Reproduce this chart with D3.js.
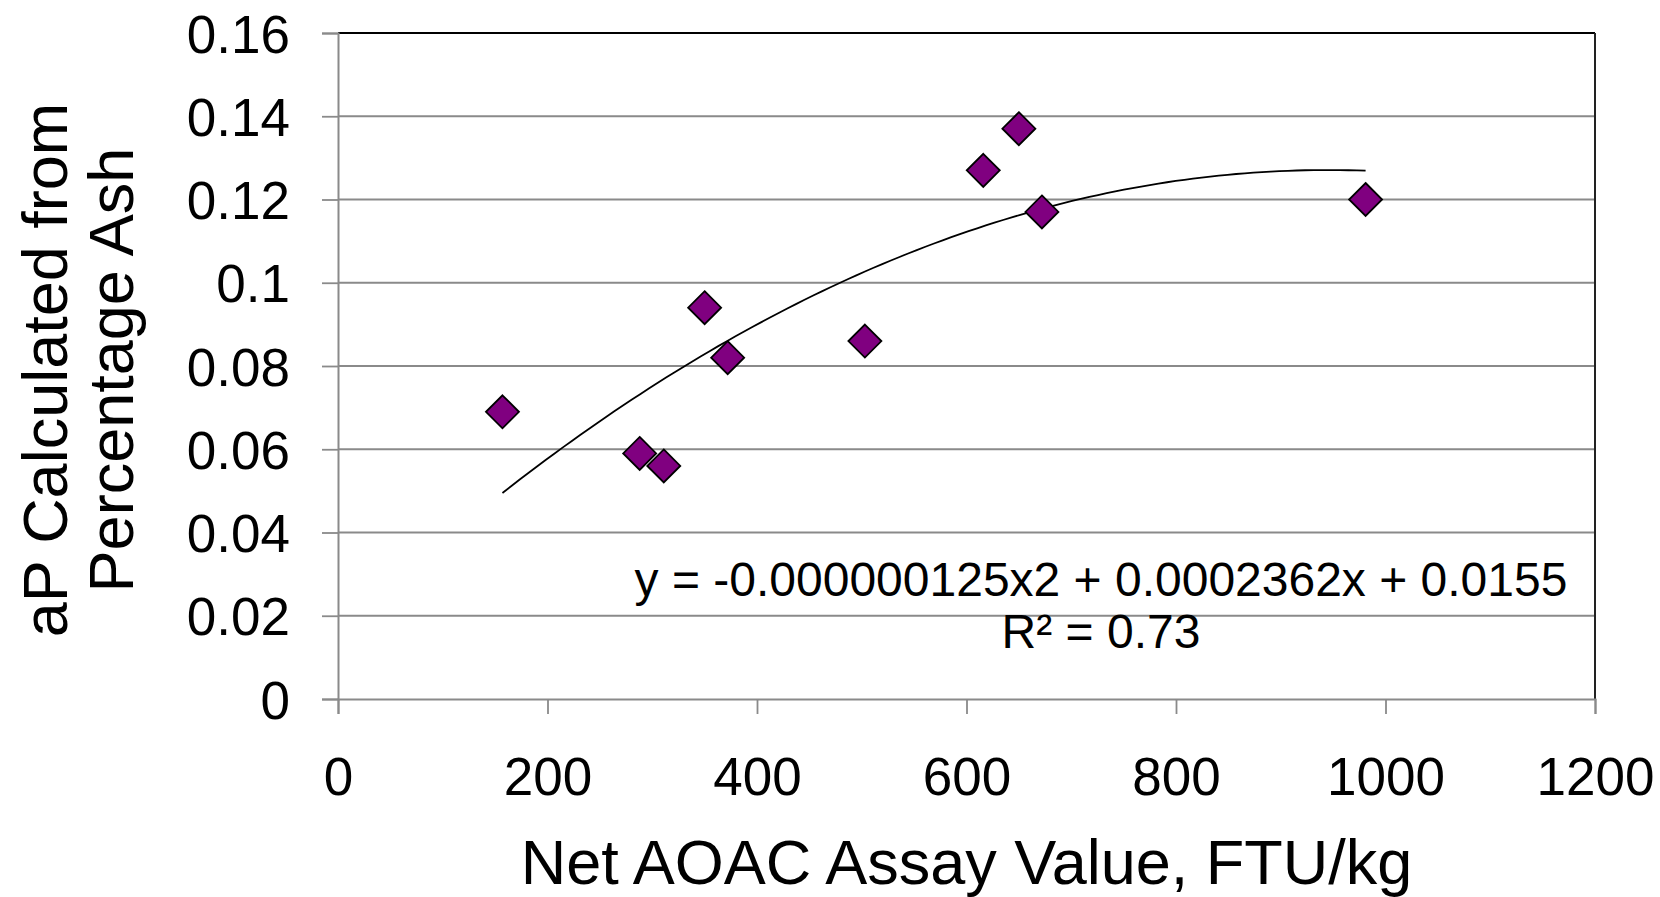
<!DOCTYPE html>
<html>
<head>
<meta charset="utf-8">
<script src="https://cdn.jsdelivr.net/npm/d3@7"></script>
<style>
  body { margin: 0; background: #fff; }
  svg { display: block; font-family: "Liberation Sans", Arial, sans-serif; }
</style>
</head>
<body>
<div id="chart"></div>
<script>
// assay values (FTU/kg) and aP from percentage ash
const assayValues = [157, 288, 311, 350, 372, 503, 616, 650, 672, 981];
const apValues = [0.069, 0.059, 0.056, 0.094, 0.082, 0.086, 0.127, 0.137, 0.117, 0.120];

// polynomial trendline, as printed on the chart: a*x^2 + b*x + c
const trendCoef = [-0.000000125, 0.0002362, 0.0155];
const equationLines = ["y = -0.000000125x2 + 0.0002362x + 0.0155", "R\u00b2 = 0.73"];

const xTicks = [0, 200, 400, 600, 800, 1000, 1200];
const yTicks = [0, 0.02, 0.04, 0.06, 0.08, 0.1, 0.12, 0.14, 0.16];

const width = 1660, height = 897;
const plot = {left: 338, right: 1595, top: 33, bottom: 699};

const svg = d3.select("#chart").append("svg")
    .attr("width", width)
    .attr("height", height);

const x = d3.scaleLinear().domain([0, 1200]).range([plot.left, plot.right]);
const y = d3.scaleLinear().domain([0, 0.16]).range([plot.bottom, plot.top]);

// horizontal gridlines
svg.append("g")
  .selectAll("line")
  .data(yTicks.filter(d => d > 0 && d < 0.16))
  .enter().append("line")
    .attr("x1", plot.left).attr("x2", plot.right)
    .attr("y1", d => y(d)).attr("y2", d => y(d))
    .attr("stroke", "#8a8a8a")
    .attr("stroke-width", 1.8);

// frame: top and right dark, left and bottom are the grey axes
svg.append("line")
    .attr("x1", plot.left).attr("x2", plot.right)
    .attr("y1", y(0.16)).attr("y2", y(0.16))
    .attr("stroke", "#000").attr("stroke-width", 2);
svg.append("line")
    .attr("x1", plot.right).attr("x2", plot.right)
    .attr("y1", plot.top).attr("y2", plot.bottom)
    .attr("stroke", "#222").attr("stroke-width", 2);

// y axis
const yAxis = svg.append("g")
    .attr("transform", `translate(${plot.left},0)`)
    .call(d3.axisLeft(y).tickValues(yTicks).tickSize(16).tickPadding(32)
      .tickFormat(d => String(+d.toFixed(2))));
yAxis.select(".domain").attr("stroke", "#8a8a8a").attr("stroke-width", 2);
yAxis.selectAll(".tick line").attr("stroke", "#8a8a8a").attr("stroke-width", 1.8);
yAxis.selectAll(".tick text")
    .attr("fill", "#000")
    .attr("font-size", 53)
    .attr("dy", "0.36em");

// x axis
const xAxis = svg.append("g")
    .attr("transform", `translate(0,${plot.bottom})`)
    .call(d3.axisBottom(x).tickValues(xTicks).tickSize(15).tickPadding(0)
      .tickFormat(d => String(d)));
xAxis.select(".domain").attr("stroke", "#8a8a8a").attr("stroke-width", 2);
xAxis.selectAll(".tick line").attr("stroke", "#8a8a8a").attr("stroke-width", 1.8);
xAxis.selectAll(".tick text")
    .attr("fill", "#000")
    .attr("font-size", 53)
    .attr("y", 96)
    .attr("dy", 0);

// trendline across the data range
const xMin = d3.min(assayValues), xMax = d3.max(assayValues);
const trendPts = d3.range(0, 101).map(i => {
  const xv = xMin + (xMax - xMin) * i / 100;
  return [xv, trendCoef[0] * xv * xv + trendCoef[1] * xv + trendCoef[2]];
});
svg.append("path")
    .datum(trendPts)
    .attr("fill", "none")
    .attr("stroke", "#000")
    .attr("stroke-width", 1.8)
    .attr("d", d3.line().x(d => x(d[0])).y(d => y(d[1])));

// diamond markers
const r = 16.5;
const diamond = `M0,${-r}L${r},0L0,${r}L${-r},0Z`;
svg.append("g")
  .selectAll("path")
  .data(assayValues.map((v, i) => ({x: v, y: apValues[i]})))
  .enter().append("path")
    .attr("d", diamond)
    .attr("transform", d => `translate(${x(d.x)},${y(d.y)})`)
    .attr("fill", "#800080")
    .attr("stroke", "#000")
    .attr("stroke-width", 1.8);

// equation label
svg.append("g")
  .selectAll("text")
  .data(equationLines)
  .enter().append("text")
    .attr("x", 1101)
    .attr("y", (d, i) => 596 + i * 52)
    .attr("text-anchor", "middle")
    .attr("font-size", 48)
    .attr("fill", "#000")
    .text(d => d);

// axis titles
svg.append("text")
    .attr("x", (plot.left + plot.right) / 2)
    .attr("y", 884)
    .attr("text-anchor", "middle")
    .attr("font-size", 63)
    .attr("fill", "#000")
    .text("Net AOAC Assay Value, FTU/kg");

const yTitle = svg.append("text")
    .attr("transform", "translate(0,370) rotate(-90)")
    .attr("text-anchor", "middle")
    .attr("font-size", 63)
    .attr("fill", "#000");
yTitle.append("tspan").attr("x", 0).attr("y", 67).text("aP Calculated from");
yTitle.append("tspan").attr("x", 0).attr("y", 133).text("Percentage Ash");
</script>
</body>
</html>
